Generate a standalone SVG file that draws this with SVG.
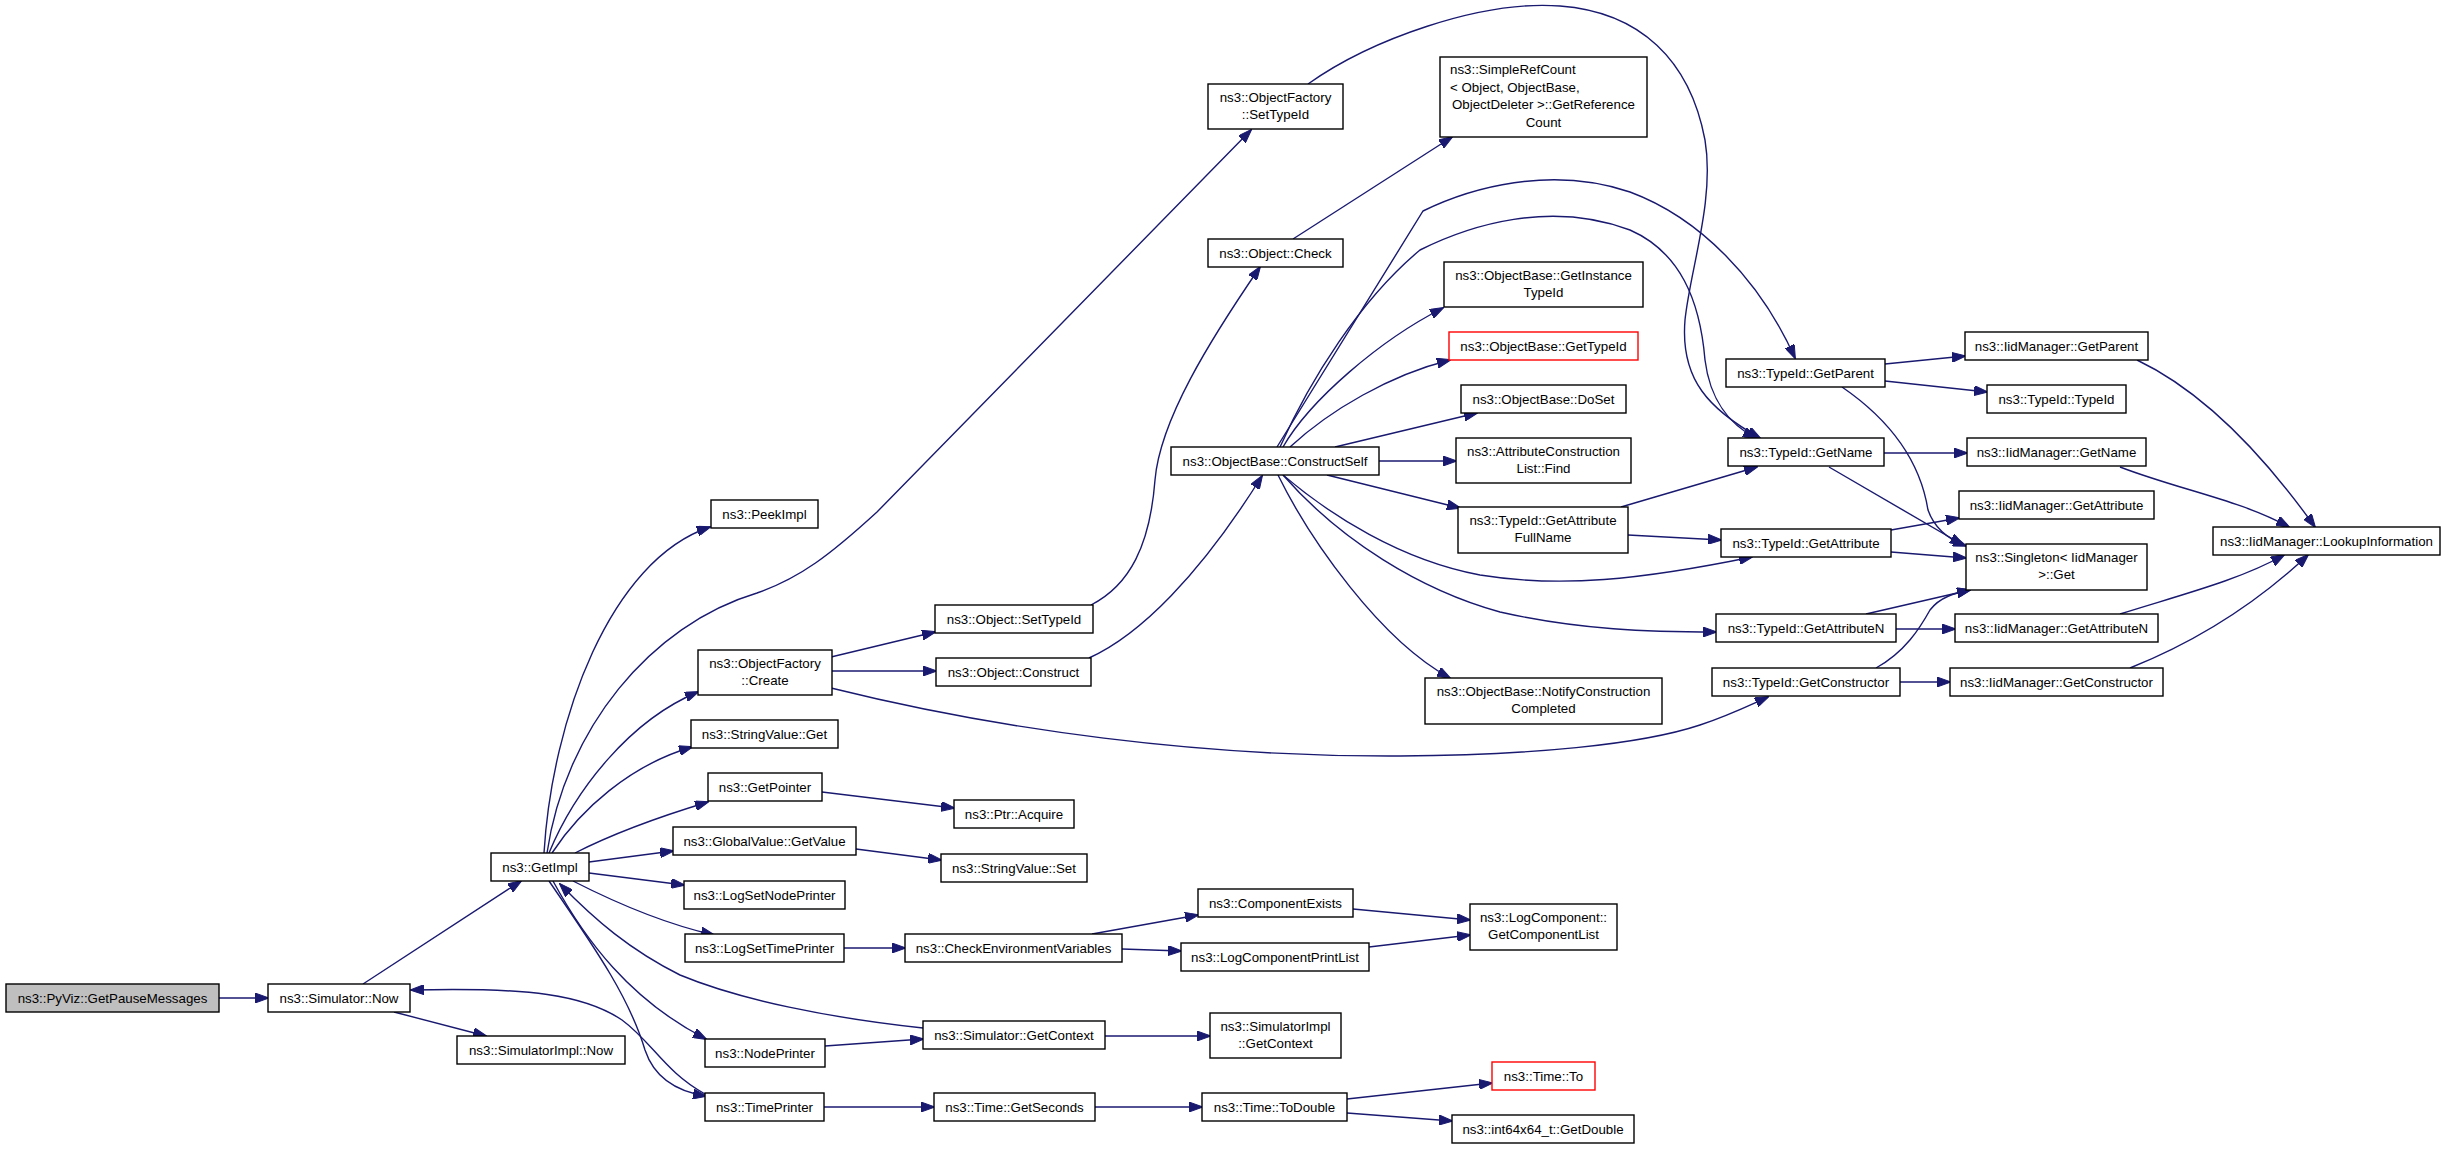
<svg xmlns="http://www.w3.org/2000/svg" width="2445" height="1150" viewBox="0 0 2445 1150">
<style>
.n rect{fill:#ffffff;stroke:#000000;stroke-width:1.4}
.n text{font-family:"Liberation Sans",Arial,sans-serif;font-size:13.3px;fill:#000000;text-anchor:middle}
.n text.l{text-anchor:start}
.red rect{stroke:#ff0000}
.root rect{fill:#bfbfbf}
#edges path{fill:none;stroke:#191970;stroke-width:1.4;marker-end:url(#a)}
</style>
<defs>
<marker id="a" markerWidth="14" markerHeight="10" refX="13" refY="5" orient="auto" markerUnits="userSpaceOnUse">
<path d="M0,0 L14,5 L0,10 z" fill="#191970" stroke="#191970" stroke-width="1"/>
</marker>
</defs>
<rect width="2445" height="1150" fill="#ffffff"/>
<g id="edges">
<path d="M219,998 L268,998"/>
<path d="M363,984 L521,881"/>
<path d="M394,1012 L486,1036"/>
<path d="M544,853 C552,720 610,560 710,527"/>
<path d="M547,853 C565,730 650,625 757,593 C800,578 830,555 877,512 L1251,130"/>
<path d="M549,853 C575,790 630,720 698,692"/>
<path d="M552,853 C580,810 630,765 692,747"/>
<path d="M575,853 C620,830 665,815 708,802"/>
<path d="M589,862 L673,851"/>
<path d="M589,873 L684,885"/>
<path d="M573,881 C620,905 670,925 714,935"/>
<path d="M553,881 C585,940 630,1000 706,1039"/>
<path d="M549,881 C600,955 630,1000 645,1050 C655,1080 680,1092 706,1096"/>
<path d="M705,1094 C665,1072 652,1042 622,1020 C585,995 530,987 411,990"/>
<path d="M923,1028 C830,1018 740,1000 680,975 C630,950 595,920 560,884"/>
<path d="M831,657 L935,632"/>
<path d="M831,671 L936,671"/>
<path d="M831,688 C1000,730 1200,757 1400,756 C1530,755 1640,745 1700,725 C1730,715 1750,705 1768,697"/>
<path d="M822,792 L954,808"/>
<path d="M856,849 L941,860"/>
<path d="M844,948 L905,948"/>
<path d="M1092,934 L1198,915"/>
<path d="M1122,949 L1181,951"/>
<path d="M1353,909 L1470,920"/>
<path d="M1369,947 L1470,935"/>
<path d="M825,1046 L923,1039"/>
<path d="M1105,1036 L1210,1036"/>
<path d="M824,1107 L934,1107"/>
<path d="M1095,1107 L1202,1107"/>
<path d="M1347,1099 L1492,1083"/>
<path d="M1347,1113 L1452,1121"/>
<path d="M1091,605 C1130,585 1150,545 1155,480 C1160,420 1210,340 1260,267"/>
<path d="M1089,658 C1140,635 1200,575 1262,476"/>
<path d="M1293,239 L1452,137"/>
<path d="M1308,84 C1370,40 1480,0 1560,6 C1640,12 1690,60 1705,140 C1715,200 1690,270 1685,320 C1680,380 1710,410 1760,438"/>
<path d="M1277,447 L1423,211 C1470,188 1550,165 1630,192 C1700,218 1760,280 1795,358"/>
<path d="M1280,447 C1310,380 1360,300 1420,250 C1470,225 1550,200 1630,230 C1680,252 1700,300 1705,360 C1710,400 1730,425 1756,438"/>
<path d="M1283,447 C1310,400 1380,340 1443,308"/>
<path d="M1290,447 C1330,410 1390,375 1450,360"/>
<path d="M1335,447 L1477,413"/>
<path d="M1379,461 L1456,461"/>
<path d="M1327,475 L1460,508"/>
<path d="M1283,475 C1330,515 1400,560 1480,575 C1560,588 1640,580 1752,557"/>
<path d="M1283,475 C1340,540 1420,590 1500,612 C1580,630 1650,632 1716,632"/>
<path d="M1278,475 C1310,540 1380,640 1450,678"/>
<path d="M1621,507 L1757,467"/>
<path d="M1628,535 L1721,540"/>
<path d="M1885,364 L1965,356"/>
<path d="M1885,381 L1987,392"/>
<path d="M1842,387 C1890,420 1920,460 1928,510 C1935,530 1950,540 1966,546"/>
<path d="M1884,453 L1967,453"/>
<path d="M1829,467 L1963,545"/>
<path d="M1891,530 L1959,518"/>
<path d="M1891,552 L1966,558"/>
<path d="M1866,614 L1970,590"/>
<path d="M1896,629 L1955,629"/>
<path d="M1876,668 C1905,652 1920,628 1930,610 C1940,597 1955,593 1970,590"/>
<path d="M1900,682 L1950,682"/>
<path d="M2137,360 C2200,390 2260,450 2315,527"/>
<path d="M2120,467 C2180,490 2240,500 2289,527"/>
<path d="M2120,614 C2180,595 2240,580 2284,555"/>
<path d="M2130,668 C2200,640 2260,600 2308,555"/>
</g>
<g id="n1" class="n root"><rect x="6" y="984" width="213" height="28"/><text x="112.5" y="1002.7">ns3::PyViz::GetPauseMessages</text></g>
<g id="n2" class="n"><rect x="268" y="984" width="142" height="28"/><text x="339" y="1002.7">ns3::Simulator::Now</text></g>
<g id="n3" class="n"><rect x="491" y="853" width="98" height="28"/><text x="540" y="871.7">ns3::GetImpl</text></g>
<g id="n4" class="n"><rect x="457" y="1036" width="168" height="28"/><text x="541" y="1054.7">ns3::SimulatorImpl::Now</text></g>
<g id="n5" class="n"><rect x="711" y="500" width="107" height="28"/><text x="764.5" y="518.7">ns3::PeekImpl</text></g>
<g id="n6" class="n"><rect x="1208" y="84" width="135" height="45"/><text x="1275.5" y="101.7">ns3::ObjectFactory</text><text x="1275.5" y="119.3">::SetTypeId</text></g>
<g id="n7" class="n"><rect x="698" y="650" width="134" height="45"/><text x="765" y="667.7">ns3::ObjectFactory</text><text x="765" y="685.3">::Create</text></g>
<g id="n8" class="n"><rect x="691" y="720" width="147" height="28"/><text x="764.5" y="738.7">ns3::StringValue::Get</text></g>
<g id="n9" class="n"><rect x="708" y="773" width="114" height="28"/><text x="765" y="791.7">ns3::GetPointer</text></g>
<g id="n10" class="n"><rect x="673" y="827" width="183" height="28"/><text x="764.5" y="845.7">ns3::GlobalValue::GetValue</text></g>
<g id="n11" class="n"><rect x="684" y="881" width="161" height="28"/><text x="764.5" y="899.7">ns3::LogSetNodePrinter</text></g>
<g id="n12" class="n"><rect x="685" y="934" width="159" height="28"/><text x="764.5" y="952.7">ns3::LogSetTimePrinter</text></g>
<g id="n13" class="n"><rect x="705" y="1039" width="120" height="28"/><text x="765" y="1057.7">ns3::NodePrinter</text></g>
<g id="n14" class="n"><rect x="705" y="1093" width="119" height="28"/><text x="764.5" y="1111.7">ns3::TimePrinter</text></g>
<g id="n15" class="n"><rect x="935" y="605" width="158" height="28"/><text x="1014" y="623.7">ns3::Object::SetTypeId</text></g>
<g id="n16" class="n"><rect x="936" y="658" width="155" height="28"/><text x="1013.5" y="676.7">ns3::Object::Construct</text></g>
<g id="n17" class="n"><rect x="954" y="800" width="120" height="28"/><text x="1014" y="818.7">ns3::Ptr::Acquire</text></g>
<g id="n18" class="n"><rect x="941" y="854" width="146" height="28"/><text x="1014" y="872.7">ns3::StringValue::Set</text></g>
<g id="n19" class="n"><rect x="905" y="934" width="217" height="28"/><text x="1013.5" y="952.7">ns3::CheckEnvironmentVariables</text></g>
<g id="n20" class="n"><rect x="923" y="1021" width="182" height="28"/><text x="1014" y="1039.7">ns3::Simulator::GetContext</text></g>
<g id="n21" class="n"><rect x="934" y="1093" width="161" height="28"/><text x="1014.5" y="1111.7">ns3::Time::GetSeconds</text></g>
<g id="n22" class="n"><rect x="1208" y="239" width="135" height="28"/><text x="1275.5" y="257.7">ns3::Object::Check</text></g>
<g id="n23" class="n"><rect x="1171" y="447" width="208" height="28"/><text x="1275" y="465.7">ns3::ObjectBase::ConstructSelf</text></g>
<g id="n24" class="n"><rect x="1198" y="889" width="155" height="28"/><text x="1275.5" y="907.7">ns3::ComponentExists</text></g>
<g id="n25" class="n"><rect x="1181" y="943" width="188" height="28"/><text x="1275" y="961.7">ns3::LogComponentPrintList</text></g>
<g id="n26" class="n"><rect x="1210" y="1013" width="131" height="45"/><text x="1275.5" y="1030.7">ns3::SimulatorImpl</text><text x="1275.5" y="1048.3">::GetContext</text></g>
<g id="n27" class="n"><rect x="1202" y="1093" width="145" height="28"/><text x="1274.5" y="1111.7">ns3::Time::ToDouble</text></g>
<g id="n28" class="n"><rect x="1440" y="57" width="207" height="80"/><text class="l" x="1450" y="74.4">ns3::SimpleRefCount</text><text class="l" x="1450" y="91.8">&lt; Object, ObjectBase,</text><text x="1543.5" y="109.2">ObjectDeleter &gt;::GetReference</text><text x="1543.5" y="126.6">Count</text></g>
<g id="n29" class="n"><rect x="1444" y="262" width="199" height="45"/><text x="1543.5" y="279.7">ns3::ObjectBase::GetInstance</text><text x="1543.5" y="297.3">TypeId</text></g>
<g id="n30" class="n red"><rect x="1449" y="332" width="189" height="28"/><text x="1543.5" y="350.7">ns3::ObjectBase::GetTypeId</text></g>
<g id="n31" class="n"><rect x="1461" y="385" width="165" height="28"/><text x="1543.5" y="403.7">ns3::ObjectBase::DoSet</text></g>
<g id="n32" class="n"><rect x="1456" y="438" width="175" height="45"/><text x="1543.5" y="455.7">ns3::AttributeConstruction</text><text x="1543.5" y="473.3">List::Find</text></g>
<g id="n33" class="n"><rect x="1458" y="507" width="170" height="46"/><text x="1543" y="524.7">ns3::TypeId::GetAttribute</text><text x="1543" y="542.3">FullName</text></g>
<g id="n34" class="n"><rect x="1425" y="678" width="237" height="46"/><text x="1543.5" y="695.7">ns3::ObjectBase::NotifyConstruction</text><text x="1543.5" y="713.3">Completed</text></g>
<g id="n35" class="n"><rect x="1470" y="904" width="147" height="46"/><text x="1543.5" y="921.7">ns3::LogComponent::</text><text x="1543.5" y="939.3">GetComponentList</text></g>
<g id="n36" class="n red"><rect x="1492" y="1062" width="103" height="28"/><text x="1543.5" y="1080.7">ns3::Time::To</text></g>
<g id="n37" class="n"><rect x="1452" y="1115" width="182" height="28"/><text x="1543" y="1133.7">ns3::int64x64_t::GetDouble</text></g>
<g id="n38" class="n"><rect x="1726" y="359" width="159" height="28"/><text x="1805.5" y="377.7">ns3::TypeId::GetParent</text></g>
<g id="n39" class="n"><rect x="1728" y="438" width="156" height="28"/><text x="1806" y="456.7">ns3::TypeId::GetName</text></g>
<g id="n40" class="n"><rect x="1721" y="529" width="170" height="28"/><text x="1806" y="547.7">ns3::TypeId::GetAttribute</text></g>
<g id="n41" class="n"><rect x="1716" y="614" width="180" height="28"/><text x="1806" y="632.7">ns3::TypeId::GetAttributeN</text></g>
<g id="n42" class="n"><rect x="1712" y="668" width="188" height="28"/><text x="1806" y="686.7">ns3::TypeId::GetConstructor</text></g>
<g id="n43" class="n"><rect x="1965" y="332" width="183" height="28"/><text x="2056.5" y="350.7">ns3::IidManager::GetParent</text></g>
<g id="n44" class="n"><rect x="1987" y="385" width="139" height="28"/><text x="2056.5" y="403.7">ns3::TypeId::TypeId</text></g>
<g id="n45" class="n"><rect x="1967" y="438" width="179" height="28"/><text x="2056.5" y="456.7">ns3::IidManager::GetName</text></g>
<g id="n46" class="n"><rect x="1959" y="491" width="195" height="28"/><text x="2056.5" y="509.7">ns3::IidManager::GetAttribute</text></g>
<g id="n47" class="n"><rect x="1966" y="544" width="181" height="46"/><text x="2056.5" y="561.7">ns3::Singleton&lt; IidManager</text><text x="2056.5" y="579.3">&gt;::Get</text></g>
<g id="n48" class="n"><rect x="1955" y="614" width="203" height="28"/><text x="2056.5" y="632.7">ns3::IidManager::GetAttributeN</text></g>
<g id="n49" class="n"><rect x="1950" y="668" width="213" height="28"/><text x="2056.5" y="686.7">ns3::IidManager::GetConstructor</text></g>
<g id="n50" class="n"><rect x="2213" y="527" width="227" height="28"/><text x="2326.5" y="545.7">ns3::IidManager::LookupInformation</text></g>
</svg>
